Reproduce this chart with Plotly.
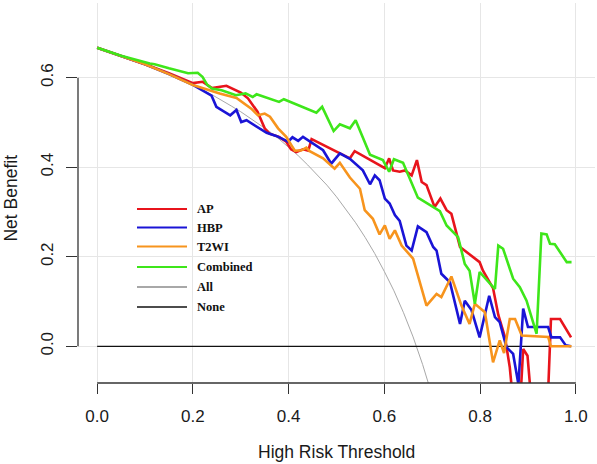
import plotly.graph_objects as go

# ---------------- data ----------------
all_threshold = [0.00, 0.02, 0.04, 0.06, 0.08, 0.10, 0.12, 0.14, 0.16, 0.18, 0.20,
                 0.22, 0.24, 0.26, 0.28, 0.30, 0.32, 0.34, 0.36, 0.38, 0.40,
                 0.42, 0.44, 0.46, 0.48, 0.50, 0.52, 0.54, 0.56, 0.58, 0.60,
                 0.62, 0.64, 0.66, 0.68, 0.70]
all_net_benefit = [0.667, 0.660, 0.653, 0.646, 0.638, 0.630, 0.622, 0.613, 0.604, 0.594, 0.584,
                   0.573, 0.562, 0.550, 0.537, 0.524, 0.510, 0.495, 0.480, 0.463, 0.445,
                   0.426, 0.405, 0.383, 0.360, 0.334, 0.306, 0.276, 0.243, 0.207, 0.167,
                   0.124, 0.075, 0.021, -0.041, -0.111]

none_threshold = [0.00, 0.99]
none_net_benefit = [0.0, 0.0]

ap_threshold = [0.00, 0.05, 0.10, 0.15, 0.20, 0.22, 0.24, 0.27, 0.30, 0.315, 0.335,
                0.35, 0.36, 0.38, 0.395, 0.405, 0.416, 0.43, 0.441, 0.448, 0.507,
                0.528, 0.538, 0.601, 0.610, 0.618, 0.632, 0.643, 0.657, 0.668, 0.678,
                0.688, 0.705, 0.717, 0.730, 0.740, 0.758, 0.772, 0.799, 0.806, 0.827,
                0.838, 0.852, 0.862, 0.872, 0.882, 0.890, 0.899, 0.910, 0.940, 0.948,
                0.967, 0.990]
ap_net_benefit = [0.667, 0.649, 0.630, 0.610, 0.588, 0.591, 0.577, 0.582, 0.567, 0.554, 0.524,
                  0.487, 0.475, 0.468, 0.457, 0.440, 0.434, 0.440, 0.437, 0.463, 0.431,
                  0.420, 0.436, 0.398, 0.420, 0.393, 0.390, 0.393, 0.382, 0.416, 0.367,
                  0.360, 0.311, 0.330, 0.304, 0.296, 0.222, 0.210, 0.188, 0.169, 0.130,
                  0.070, 0.020, -0.047, -0.160, -0.160, -0.006, -0.021, -0.160, -0.160, 0.061,
                  0.061, 0.020]

hbp_threshold = [0.00, 0.05, 0.10, 0.15, 0.20, 0.239, 0.249, 0.278, 0.291, 0.301, 0.312,
                 0.354, 0.374, 0.388, 0.399, 0.408, 0.420, 0.430, 0.451, 0.472, 0.489,
                 0.507, 0.528, 0.555, 0.570, 0.580, 0.590, 0.601, 0.611, 0.622, 0.632,
                 0.646, 0.657, 0.670, 0.688, 0.702, 0.709, 0.719, 0.737, 0.758, 0.768,
                 0.782, 0.799, 0.819, 0.831, 0.841, 0.855, 0.869, 0.880, 0.890, 0.900,
                 0.942, 0.949, 0.967, 0.979, 0.990]
hbp_net_benefit = [0.667, 0.649, 0.630, 0.608, 0.584, 0.560, 0.535, 0.516, 0.528, 0.501, 0.505,
                   0.477, 0.470, 0.463, 0.457, 0.467, 0.459, 0.468, 0.453, 0.438, 0.408,
                   0.431, 0.419, 0.393, 0.362, 0.382, 0.371, 0.330, 0.319, 0.293, 0.280,
                   0.225, 0.214, 0.268, 0.255, 0.222, 0.214, 0.162, 0.143, 0.050, 0.102,
                   0.081, 0.020, 0.113, 0.065, 0.054, -0.002, -0.017, -0.085, 0.084, 0.043,
                   0.043, 0.020, 0.020, 0.002, 0.000]

t2wi_threshold = [0.00, 0.05, 0.10, 0.15, 0.20, 0.256, 0.291, 0.322, 0.336, 0.350, 0.361,
                  0.378, 0.395, 0.406, 0.413, 0.427, 0.437, 0.444, 0.472, 0.496, 0.507,
                  0.528, 0.549, 0.559, 0.576, 0.590, 0.601, 0.611, 0.622, 0.636, 0.660,
                  0.688, 0.709, 0.719, 0.740, 0.761, 0.778, 0.789, 0.810, 0.827, 0.841,
                  0.850, 0.862, 0.873, 0.887, 0.942, 0.948, 0.991]
t2wi_net_benefit = [0.667, 0.649, 0.630, 0.608, 0.584, 0.565, 0.555, 0.531, 0.516, 0.520, 0.513,
                    0.487, 0.468, 0.449, 0.437, 0.438, 0.444, 0.436, 0.420, 0.397, 0.410,
                    0.377, 0.352, 0.304, 0.285, 0.250, 0.270, 0.240, 0.259, 0.225, 0.196,
                    0.091, 0.117, 0.110, 0.156, 0.091, 0.050, 0.095, 0.076, -0.036, 0.013,
                    -0.015, 0.061, 0.061, 0.024, 0.021, 0.000, 0.000]

combined_threshold = [0.00, 0.05, 0.11, 0.12, 0.15, 0.19, 0.21, 0.22, 0.23, 0.24, 0.26,
                      0.29, 0.31, 0.325, 0.333, 0.38, 0.39, 0.458, 0.470, 0.494, 0.507,
                      0.528, 0.540, 0.570, 0.597, 0.610, 0.620, 0.639, 0.670, 0.716, 0.730,
                      0.754, 0.768, 0.778, 0.789, 0.799, 0.831, 0.838, 0.848, 0.869, 0.883,
                      0.897, 0.918, 0.928, 0.939, 0.946, 0.956, 0.981, 0.991]
combined_net_benefit = [0.667, 0.649, 0.632, 0.630, 0.621, 0.610, 0.611, 0.602, 0.584, 0.576, 0.572,
                        0.561, 0.565, 0.557, 0.563, 0.546, 0.552, 0.522, 0.535, 0.481, 0.496,
                        0.487, 0.505, 0.428, 0.416, 0.390, 0.418, 0.410, 0.332, 0.302, 0.270,
                        0.244, 0.184, 0.169, 0.095, 0.166, 0.128, 0.225, 0.218, 0.151, 0.132,
                        0.102, 0.028, 0.252, 0.250, 0.229, 0.228, 0.188, 0.188]

series_names = ["AP", "HBP", "T2WI", "Combined", "All", "None"]
x_ticks = [0.0, 0.2, 0.4, 0.6, 0.8, 1.0]
x_tick_labels = ["0.0", "0.2", "0.4", "0.6", "0.8", "1.0"]
y_ticks = [0.0, 0.2, 0.4, 0.6]
y_tick_labels = ["0.0", "0.2", "0.4", "0.6"]

# ---------------- styling ----------------
colors = {"AP": "#e8141c", "HBP": "#1a14d6", "T2WI": "#f7941d",
          "Combined": "#3ee61a", "All": "#a8a8a8", "None": "#111111"}
widths = {"AP": 2.6, "HBP": 2.6, "T2WI": 2.6, "Combined": 2.6, "All": 1.0, "None": 1.3}

W, H = 597, 464
L, R, T, B = 78, 2, 3, 81
XR = [-0.04, 1.04]
YR = [-0.082, 0.767]
AXIS_FONT = "Liberation Sans, Arial, sans-serif"

fig = go.Figure()
data = {
    "All": (all_threshold, all_net_benefit),
    "None": (none_threshold, none_net_benefit),
    "AP": (ap_threshold, ap_net_benefit),
    "HBP": (hbp_threshold, hbp_net_benefit),
    "T2WI": (t2wi_threshold, t2wi_net_benefit),
    "Combined": (combined_threshold, combined_net_benefit),
}
for name in ["All", "None", "AP", "HBP", "T2WI", "Combined"]:
    xs, ys = data[name]
    fig.add_trace(go.Scatter(x=xs, y=ys, mode="lines", name=name,
                             line=dict(color=colors[name], width=widths[name]),
                             showlegend=False))

pw, ph = W - L - R, H - T - B


def px2paper_x(px):
    return (px - L) / pw


def px2paper_y(py):
    return (H - B - py) / ph


shapes = []
# R-style axis lines spanning only the tick range
shapes.append(dict(type="line", xref="x", yref="paper", x0=x_ticks[0], x1=x_ticks[-1],
                   y0=0, y1=0, line=dict(color="#333333", width=1.3), layer="above"))
shapes.append(dict(type="line", xref="paper", yref="y", x0=0, x1=0,
                   y0=y_ticks[0], y1=y_ticks[-1], line=dict(color="#333333", width=1.3),
                   layer="above"))

# manual legend (box-less, as in the reference)
legend_rows_px = [209, 227.5, 246.5, 267, 287, 307]
annotations = []
for name, py in zip(series_names, legend_rows_px):
    shapes.append(dict(type="line", xref="paper", yref="paper",
                       x0=px2paper_x(137), x1=px2paper_x(187),
                       y0=px2paper_y(py), y1=px2paper_y(py),
                       line=dict(color=colors[name], width=1.8 if name != "None" else 1.6)))
    annotations.append(dict(text=name, xref="paper", yref="paper",
                            x=px2paper_x(195), y=px2paper_y(py), xanchor="left",
                            yanchor="middle", showarrow=False,
                            font=dict(family="Liberation Serif, Times New Roman, serif",
                                      size=12.5, color="#111111", weight="bold")))

annotations.append(dict(text="High Risk Threshold", xref="x", yref="paper", x=0.5,
                        y=px2paper_y(452), xanchor="center", yanchor="middle",
                        showarrow=False, font=dict(family=AXIS_FONT, size=17.5, color="#1a1a1a")))
annotations.append(dict(text="Net Benefit", xref="paper", yref="y", x=px2paper_x(11),
                        y=0.33, xanchor="center", yanchor="middle", textangle=-90,
                        showarrow=False, font=dict(family=AXIS_FONT, size=17.5, color="#1a1a1a")))

fig.update_layout(
    width=W, height=H,
    margin=dict(l=L, r=R, t=T, b=B, pad=0, autoexpand=False),
    paper_bgcolor="white", plot_bgcolor="white",
    shapes=shapes, annotations=annotations,
    showlegend=False,
    xaxis=dict(range=XR, tickvals=x_ticks, ticktext=x_tick_labels, automargin=False,
               showgrid=True, gridcolor="#e6e6e6", gridwidth=1, zeroline=False,
               showline=False, ticks="outside", ticklen=10, tickwidth=1.3,
               tickcolor="#333333", ticklabelstandoff=8,
               tickfont=dict(family=AXIS_FONT, size=17, color="#1a1a1a")),
    yaxis=dict(range=YR, tickvals=y_ticks, ticktext=y_tick_labels, tickangle=-90,
               automargin=False,
               showgrid=True, gridcolor="#e6e6e6", gridwidth=1, zeroline=False,
               showline=False, ticks="outside", ticklen=11, tickwidth=1.3,
               tickcolor="#333333", ticklabelstandoff=6,
               tickfont=dict(family=AXIS_FONT, size=17, color="#1a1a1a")),
)

# the page's default 8px body margin would shift the figure; remove it
fig.write_html("out.html", config={"displayModeBar": False},
               post_script="document.body.style.margin='0';document.body.style.overflow='hidden';")
